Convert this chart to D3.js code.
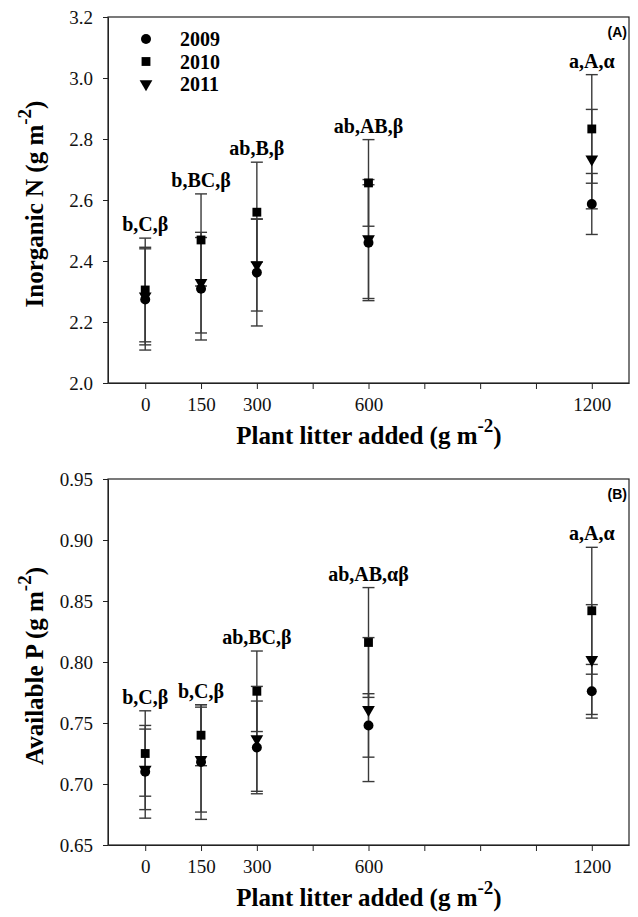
<!DOCTYPE html>
<html>
<head>
<meta charset="utf-8">
<script src="https://cdn.jsdelivr.net/npm/d3@7"></script>
<style>
  body { margin: 0; background: #fff; }
  svg { display: block; }
  .serif { font-family: "Liberation Serif", "Times New Roman", "DejaVu Serif", serif; }
  .sans { font-family: "Liberation Sans", Arial, sans-serif; }
</style>
</head>
<body>
<svg id="chart"></svg>
<script>
var width = 638;
var height = 917;

// litter added (g m-2)
var litter = [0, 150, 300, 600, 1200];
var xTicks = [0, 150, 300, 450, 600, 750, 900, 1050, 1200];
var xLabels = [0, 150, 300, 600, 1200];
var years = ["2009", "2010", "2011"];

// (A) inorganic N, means and SE
var n2009 = [2.274, 2.309, 2.362, 2.460, 2.587];
var n2009se = [0.166, 0.168, 0.175, 0.190, 0.100];
var n2010 = [2.305, 2.469, 2.560, 2.656, 2.833];
var n2010se = [0.170, 0.151, 0.164, 0.142, 0.178];
var n2011 = [2.285, 2.329, 2.387, 2.472, 2.734];
var n2011se = [0.160, 0.165, 0.151, 0.195, 0.163];
var nLetters = ["b,C,\u03b2", "b,BC,\u03b2", "ab,B,\u03b2", "ab,AB,\u03b2", "a,A,\u03b1"];
var nTicks = [2.0, 2.2, 2.4, 2.6, 2.8, 3.0, 3.2];

// (B) available P, means and SE
var p2009 = [0.710, 0.718, 0.730, 0.748, 0.776];
var p2009se = [0.038, 0.047, 0.038, 0.026, 0.022];
var p2010 = [0.725, 0.740, 0.776, 0.816, 0.842];
var p2010se = [0.035, 0.025, 0.033, 0.045, 0.052];
var p2011 = [0.712, 0.720, 0.737, 0.761, 0.802];
var p2011se = [0.033, 0.043, 0.043, 0.059, 0.045];
var pLetters = ["b,C,\u03b2", "b,C,\u03b2", "ab,BC,\u03b2", "ab,AB,\u03b1\u03b2", "a,A,\u03b1"];
var pTicks = [0.65, 0.70, 0.75, 0.80, 0.85, 0.90, 0.95];

var svg = d3.select("#chart").attr("width", width).attr("height", height);

var xScale = d3.scaleLinear().domain([-100, 1300]).range([108, 629]);

var shapes = {
  "2009": d3.symbol().type(d3.symbolCircle).size(78),
  "2010": d3.symbol().type(d3.symbolSquare).size(78),
  "2011": d3.symbol().type(d3.symbolTriangle).size(70)
};

function drawPanel(opt) {
  var g = svg.append("g");
  var yScale = d3.scaleLinear().domain(opt.domain).range([opt.bottom, opt.top]);

  var series = [
    {year: "2009", mean: opt.s[0], se: opt.s[1]},
    {year: "2010", mean: opt.s[2], se: opt.s[3]},
    {year: "2011", mean: opt.s[4], se: opt.s[5]}
  ];

  // frame
  g.append("rect")
    .attr("x", xScale.range()[0]).attr("y", opt.top)
    .attr("width", xScale.range()[1] - xScale.range()[0])
    .attr("height", opt.bottom - opt.top)
    .attr("fill", "none").attr("stroke", "#222").attr("stroke-width", 1.2);

  var xAxis = g.append("g")
    .attr("transform", `translate(0,${opt.bottom})`)
    .call(d3.axisBottom(xScale)
      .tickValues(xTicks)
      .tickSize(6).tickSizeOuter(0).tickPadding(9)
      .tickFormat(function(d) { return xLabels.indexOf(d) >= 0 ? d : ""; }));

  var yAxis = g.append("g")
    .attr("transform", `translate(${xScale.range()[0]},0)`)
    .call(d3.axisLeft(yScale)
      .tickValues(opt.yTicks)
      .tickSize(5).tickSizeOuter(0).tickPadding(10)
      .tickFormat(d3.format(opt.fmt)));

  xAxis.attr("font-family", null).attr("font-size", null);
  yAxis.attr("font-family", null).attr("font-size", null);
  g.selectAll(".domain").attr("stroke", "#222");
  g.selectAll(".tick line").attr("stroke", "#222");
  g.selectAll(".tick text")
    .attr("class", "serif").attr("font-size", 19).attr("fill", "#111");

  // error bars, drawn per series
  series.forEach(function(s) {
    var eb = g.append("g");
    litter.forEach(function(x, i) {
      var cx = xScale(x);
      var y1 = yScale(s.mean[i] + s.se[i]);
      var y0 = yScale(s.mean[i] - s.se[i]);
      eb.append("line").attr("x1", cx).attr("x2", cx).attr("y1", y1).attr("y2", y0);
      eb.append("line").attr("x1", cx - 6).attr("x2", cx + 6).attr("y1", y1).attr("y2", y1);
      eb.append("line").attr("x1", cx - 6).attr("x2", cx + 6).attr("y1", y0).attr("y2", y0);
    });
    eb.selectAll("line").attr("stroke", "#3a3a3a").attr("stroke-width", 1.4);
  });

  // markers
  series.forEach(function(s) {
    g.append("g").selectAll("path")
      .data(litter)
      .enter()
      .append("path")
      .attr("d", shapes[s.year]())
      .attr("transform", function(d, i) {
        var rot = s.year === "2011" ? " rotate(180)" : "";
        return `translate(${xScale(d)},${yScale(s.mean[i])})` + rot;
      })
      .attr("fill", "#000");
  });

  // significance letters above the highest cap
  g.append("g").selectAll("text")
    .data(litter)
    .enter()
    .append("text")
    .attr("class", "serif")
    .attr("x", function(d) { return xScale(d); })
    .attr("y", function(d, i) {
      var top = d3.max(series, function(s) { return s.mean[i] + s.se[i]; });
      return yScale(top) - 7;
    })
    .attr("text-anchor", "middle")
    .attr("font-weight", "bold").attr("font-size", 20)
    .text(function(d, i) { return opt.letters[i]; });

  // panel tag
  g.append("text")
    .attr("class", "sans")
    .attr("x", 627).attr("y", opt.top + 20)
    .attr("text-anchor", "end")
    .attr("font-weight", "bold").attr("font-size", 14)
    .text(opt.tag);

  // y title
  var yt = g.append("text")
    .attr("class", "serif")
    .attr("transform", `translate(43,${(opt.top + opt.bottom) / 2 + 4}) rotate(-90)`)
    .attr("text-anchor", "middle")
    .attr("font-weight", "bold").attr("font-size", 25);
  yt.append("tspan").text(opt.yTitle + " (g m");
  yt.append("tspan").attr("dy", -12).attr("font-size", 19).text("-2");
  yt.append("tspan").attr("dy", 12).text(")");

  // x title
  var xt = g.append("text")
    .attr("class", "serif")
    .attr("x", 369).attr("y", opt.bottom + 61)
    .attr("text-anchor", "middle")
    .attr("font-weight", "bold").attr("font-size", 25);
  xt.append("tspan").text("Plant litter added (g m");
  xt.append("tspan").attr("dy", -12).attr("font-size", 19).text("-2");
  xt.append("tspan").attr("dy", 12).text(")");

  return g;
}

var panelA = drawPanel({
  top: 17, bottom: 383, domain: [2.0, 3.2], yTicks: nTicks, fmt: ".1f",
  s: [n2009, n2009se, n2010, n2010se, n2011, n2011se],
  letters: nLetters, tag: "(A)", yTitle: "Inorganic N"
});

drawPanel({
  top: 479, bottom: 845, domain: [0.65, 0.95], yTicks: pTicks, fmt: ".2f",
  s: [p2009, p2009se, p2010, p2010se, p2011, p2011se],
  letters: pLetters, tag: "(B)", yTitle: "Available P"
});

// legend in panel A
var legend = panelA.append("g").selectAll("g")
  .data(years)
  .enter()
  .append("g")
  .attr("transform", function(d, i) { return `translate(146,${39 + i * 22.5})`; });

legend.append("path")
  .attr("d", function(d) { return shapes[d](); })
  .attr("transform", function(d) { return d === "2011" ? "rotate(180)" : null; })
  .attr("fill", "#000");

legend.append("text")
  .attr("class", "serif")
  .attr("x", 34).attr("y", 7)
  .attr("font-weight", "bold").attr("font-size", 20)
  .text(function(d) { return d; });
</script>
</body>
</html>
